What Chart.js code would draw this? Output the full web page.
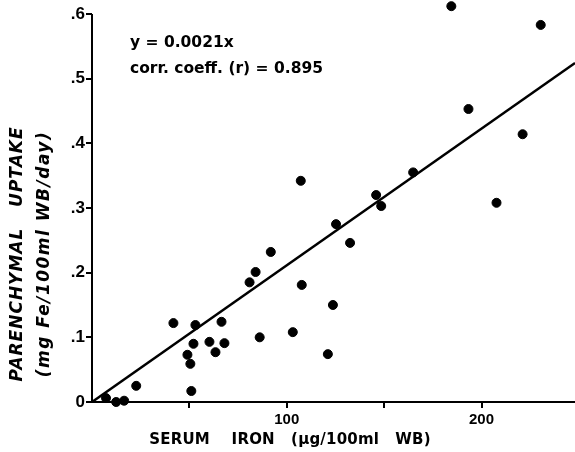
<!DOCTYPE html>
<html>
<head>
<meta charset="utf-8">
<script src="https://cdn.jsdelivr.net/npm/chart.js@4"></script>
<style>
  html, body { margin: 0; padding: 0; background: #fff; }
</style>
</head>
<body>
<canvas id="chart" width="575" height="452"></canvas>
<script>
// serum iron (ug/100ml WB) vs parenchymal uptake (mg Fe/100ml WB/day)
const serumIron = [7.2, 12.4, 16.5, 22.7, 41.8, 49.0, 50.5, 51.0, 52.1, 53.1, 60.3,
  63.4, 66.5, 68.0, 80.9, 84.0, 86.1, 91.8, 103.1, 107.2, 107.7, 121.1, 123.7,
  125.3, 132.5, 145.9, 148.5, 164.9, 184.5, 193.3, 207.7, 221.1, 230.4];
const uptake = [0.006, 0.0, 0.002, 0.025, 0.122, 0.073, 0.059, 0.017, 0.090, 0.119, 0.093,
  0.077, 0.124, 0.091, 0.185, 0.201, 0.100, 0.232, 0.108, 0.342, 0.181, 0.074, 0.150,
  0.275, 0.246, 0.320, 0.303, 0.355, 0.612, 0.453, 0.308, 0.414, 0.583];

// regression line y = 0.0021x, ends at the right edge
const fitX = [0, 248];
const fitY = [0, 0.524];

const xTicks = [50, 100, 150, 200];
const xTickLabels = { 100: "100", 200: "200" };
const yTicks = [0, 0.1, 0.2, 0.3, 0.4, 0.5, 0.6];
const yTickLabels = ["0", ".1", ".2", ".3", ".4", ".5", ".6"];

const FONT = '"Liberation Sans", Arial, sans-serif';
const WIDE = '"DejaVu Sans", sans-serif';

// y axis line only runs up to the .6 tick, the top point sits above it
const axisLine = {
  id: "axisLine",
  beforeDatasetsDraw(chart) {
    const y = chart.scales.y;
    const ctx = chart.ctx;
    ctx.save();
    ctx.strokeStyle = "#000";
    ctx.lineWidth = 2;
    ctx.beginPath();
    ctx.moveTo(chart.chartArea.left, y.getPixelForValue(0.6));
    ctx.lineTo(chart.chartArea.left, y.getPixelForValue(0) + 1);
    ctx.stroke();
    ctx.restore();
  },
};

const textPlugin = {
  id: "textPlugin",
  afterDraw(chart) {
    const ctx = chart.ctx;
    ctx.save();
    ctx.fillStyle = "#000";
    ctx.textBaseline = "middle";

    ctx.font = "bold 15.5px " + WIDE;
    ctx.textAlign = "left";
    ctx.fillText("y = 0.0021x", 130, 43);
    ctx.fillText("corr. coeff. (r) = 0.895", 130, 69);

    ctx.textAlign = "center";
    ctx.font = "bold 15px " + WIDE;
    ctx.letterSpacing = "0.2px";
    ctx.fillText("SERUM    IRON   (\u03bcg/100ml   WB)", 290, 440);

    ctx.translate(18, 254);
    ctx.rotate(-Math.PI / 2);
    ctx.font = "italic bold 17px " + WIDE;
    ctx.letterSpacing = "1px";
    ctx.fillText("PARENCHYMAL   UPTAKE", 0, 0);
    ctx.letterSpacing = "1.5px";
    ctx.fillText("(mg Fe/100ml WB/day)", 0, 27);
    ctx.restore();
  },
};

const ctx = document.getElementById("chart").getContext("2d");

new Chart(ctx, {
  type: "scatter",
  data: {
    datasets: [
      {
        data: fitX.map((x, i) => ({ x: x, y: fitY[i] })),
        showLine: true,
        borderColor: "#000",
        borderWidth: 2.5,
        pointRadius: 0,
      },
      {
        data: serumIron.map((x, i) => ({ x: x, y: uptake[i] })),
        backgroundColor: "#000",
        borderColor: "#000",
        pointRadius: 4.5,
        clip: false,
      },
    ],
  },
  options: {
    responsive: false,
    animation: false,
    layout: { autoPadding: false, padding: { top: 1, right: 0, left: 0, bottom: 0 } },
    plugins: { legend: { display: false }, tooltip: { enabled: false } },
    scales: {
      x: {
        type: "linear",
        min: 0,
        max: 248,
        afterBuildTicks: (s) => { s.ticks = xTicks.map((v) => ({ value: v })); },
        afterFit: (s) => { s.height = 50; s.paddingLeft = 0; s.paddingRight = 0; },
        border: { display: true, color: "#000", width: 2 },
        grid: { drawOnChartArea: false, drawTicks: true, tickLength: 6, color: "#000", lineWidth: 2 },
        ticks: {
          callback: (v) => xTickLabels[v] || "",
          color: "#000",
          font: { family: FONT, size: 15, weight: "bold" },
          padding: 3,
          maxRotation: 0,
          autoSkip: false,
        },
      },
      y: {
        min: 0,
        max: 0.62,
        afterBuildTicks: (s) => { s.ticks = yTicks.map((v) => ({ value: v })); },
        afterFit: (s) => { s.width = 92; s.paddingTop = 0; s.paddingBottom = 0; },
        border: { display: false },
        grid: { drawOnChartArea: false, drawTicks: true, tickLength: 6, color: "#000", lineWidth: 2 },
        ticks: {
          callback: (v, i) => yTickLabels[i],
          color: "#000",
          font: { family: FONT, size: 17, weight: "bold" },
          padding: 1,
          autoSkip: false,
        },
      },
    },
  },
  plugins: [axisLine, textPlugin],
});
</script>
</body>
</html>
